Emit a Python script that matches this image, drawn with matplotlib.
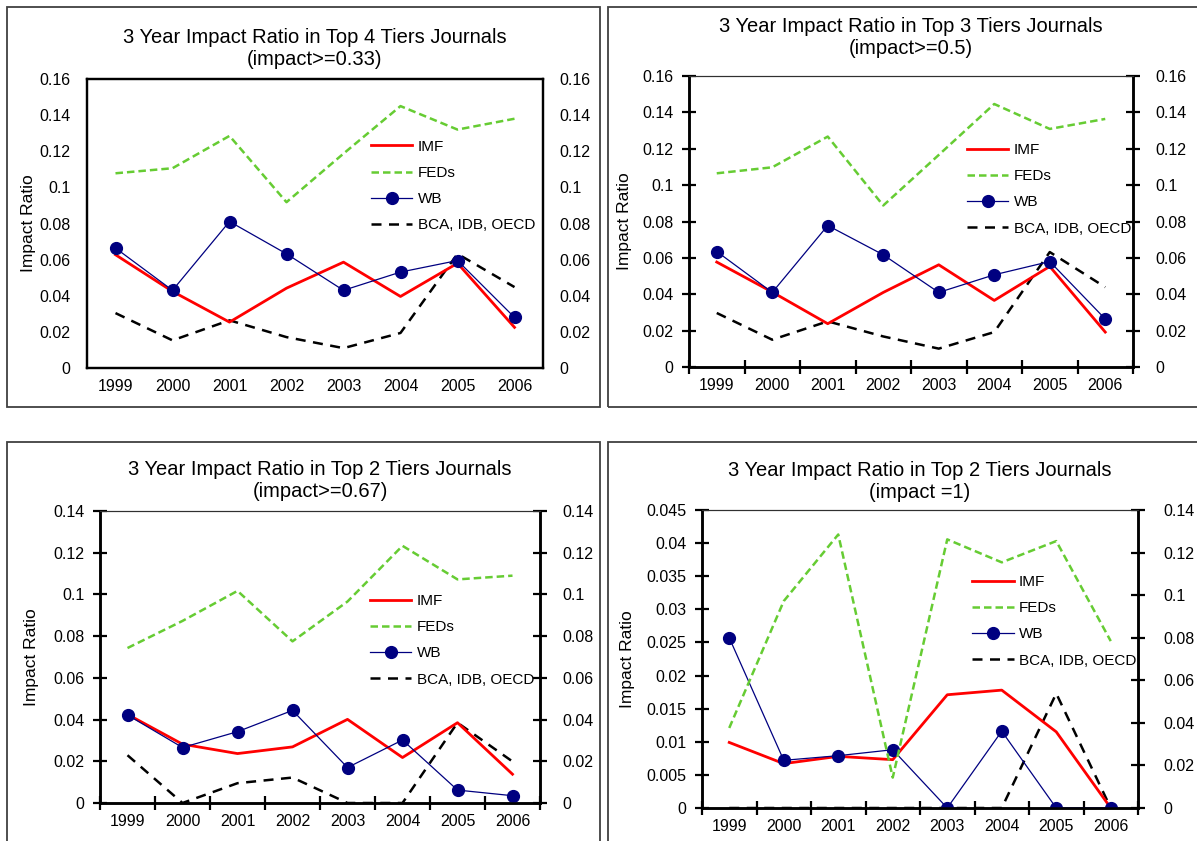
import numpy as np
import matplotlib.pyplot as plt
from matplotlib.patches import Rectangle
from matplotlib.ticker import FixedLocator, NullFormatter

plt.rcParams['font.family'] = ['Liberation Sans', 'DejaVu Sans']

years = ['1999', '2000', '2001', '2002', '2003', '2004', '2005', '2006']

# top 4 tiers, impact >= 0.33
imf_4 = [0.0627, 0.0424, 0.0254, 0.0442, 0.0586, 0.0396, 0.0580, 0.0225]
feds_4 = [0.1078, 0.1106, 0.1285, 0.0918, 0.1187, 0.1450, 0.1320, 0.1380]
wb_4 = [0.0664, 0.0430, 0.0811, 0.0632, 0.0430, 0.0531, 0.0595, 0.0280]
bca_4 = [0.0304, 0.0153, 0.0264, 0.0171, 0.0110, 0.0194, 0.0632, 0.0448]

# top 3 tiers, impact >= 0.5
imf_3 = [0.0577, 0.0412, 0.0238, 0.0410, 0.0562, 0.0366, 0.0553, 0.0192]
feds_3 = [0.1065, 0.1098, 0.1267, 0.0888, 0.1166, 0.1446, 0.1309, 0.1364]
wb_3 = [0.0635, 0.0410, 0.0778, 0.0617, 0.0410, 0.0507, 0.0580, 0.0264]
bca_3 = [0.0297, 0.0150, 0.0251, 0.0168, 0.0101, 0.0192, 0.0632, 0.0439]

# top 2 tiers, impact >= 0.67
imf_2 = [0.0425, 0.0282, 0.0237, 0.0269, 0.0401, 0.0218, 0.0385, 0.0138]
feds_2 = [0.0743, 0.0873, 0.1017, 0.0775, 0.0966, 0.1233, 0.1072, 0.1090]
wb_2 = [0.0422, 0.0266, 0.0342, 0.0444, 0.0170, 0.0302, 0.0062, 0.0035]
bca_2 = [0.0229, 0.0, 0.0095, 0.0122, 0.0, 0.0, 0.0385, 0.0199]

# top 2 tiers, impact = 1 (FEDs on the secondary axis)
imf_1 = [0.0099, 0.0067, 0.0078, 0.0073, 0.0171, 0.0178, 0.0115, 0.0]
feds_1 = [0.0376, 0.0972, 0.1285, 0.0143, 0.1262, 0.1154, 0.1254, 0.0784]
wb_1 = [0.0257, 0.0072, 0.0079, 0.0088, 0.0, 0.0116, 0.0, 0.0]
bca_1 = [0.0, 0.0, 0.0, 0.0, 0.0, 0.0, 0.0173, 0.0]

W, H = 1197, 841
fig = plt.figure(figsize=(W / 100, H / 100), dpi=100)


def box(x0, y0, x1, y1):
    # pixel box -> figure fraction rect
    return [x0 / W, 1 - y1 / H, (x1 - x0) / W, (y1 - y0) / H]


# panel frames
for x0, y0, x1, y1 in [(7, 7, 600, 407), (608, 7, 1200, 407),
                       (7, 442, 600, 850), (608, 442, 1200, 850)]:
    fig.patches.append(Rectangle((x0 / W, 1 - y1 / H), (x1 - x0) / W, (y1 - y0) / H,
                                 transform=fig.transFigure, fill=False,
                                 edgecolor='#404040', lw=1.3))


def panel(rect, title, imf, feds, wb, bca, ylim, yticks, ylabels,
          rylim=None, rticks=None, rlabels=None, feds_right=False,
          plain=False, leg=(0.62, 0.78), ylab_x=-0.15, tpad=10, rpad=10):
    ax = fig.add_axes(box(*rect))
    ax2 = ax.twinx()
    x = np.arange(len(years))

    ax.plot(x, imf, color='#ff0000', lw=2.0, label='IMF', zorder=3)
    fa = ax2 if feds_right else ax
    fa.plot(x, feds, color='#66cc33', lw=1.8, ls=(0, (3, 1.6)), label='FEDs', zorder=2)
    ax.plot(x, wb, color='#000080', lw=0.9, marker='o', ms=8.5, label='WB', zorder=4)
    ax.plot(x, bca, color='black', lw=1.8, ls=(0, (4, 3)), label='BCA, IDB, OECD', zorder=2)

    ax.set_xlim(-0.5, 7.5)
    ax.set_ylim(*ylim)
    ax.set_yticks(yticks)
    ax.set_yticklabels(ylabels)
    ax.set_xticks(x)
    ax.set_xticklabels(years)
    if rylim is None:
        rylim, rticks, rlabels = ylim, yticks, ylabels
    ax2.set_ylim(*rylim)
    ax2.set_yticks(rticks)
    ax2.set_yticklabels(rlabels)

    for a in (ax, ax2):
        a.tick_params(labelsize=11.5, colors='black')
        a.set_facecolor('none')
    ax.tick_params(axis='x', length=0, pad=8)

    if plain:
        ax.tick_params(axis='y', length=0, pad=12)
        ax2.tick_params(axis='y', length=0, pad=rpad)
        for a in (ax, ax2):
            for s in a.spines.values():
                s.set_linewidth(1.6)
    else:
        ax.tick_params(axis='y', direction='inout', length=10, width=1.6, pad=6)
        ax2.tick_params(axis='y', direction='inout', length=10, width=1.6, pad=rpad)
        ax.xaxis.set_minor_locator(FixedLocator(np.arange(-0.5, 8, 1.0)))
        ax.xaxis.set_minor_formatter(NullFormatter())
        ax.tick_params(axis='x', which='minor', direction='inout', length=10, width=1.6)
        for a in (ax, ax2):
            a.spines['left'].set_linewidth(1.8)
            a.spines['right'].set_linewidth(1.8)
            a.spines['bottom'].set_linewidth(1.8)
            a.spines['top'].set_linewidth(0.8)
            a.spines['top'].set_color('#303030')

    ax.set_ylabel('Impact Ratio', fontsize=12.5)
    ax.yaxis.set_label_coords(ylab_x, 0.5)
    ax.set_title(title, fontsize=14.5, pad=tpad, linespacing=1.18)

    h1, l1 = ax.get_legend_handles_labels()
    h2, l2 = ax2.get_legend_handles_labels()
    hs = dict(zip(l1 + l2, h1 + h2))
    order = ['IMF', 'FEDs', 'WB', 'BCA, IDB, OECD']
    ax2.legend([hs[k] for k in order], order, loc='upper left', bbox_to_anchor=leg,
               frameon=False, fontsize=11, handlelength=2.7, handletextpad=0.35,
               labelspacing=0.8, borderpad=0, borderaxespad=0)
    return ax


t16 = [0, 0.02, 0.04, 0.06, 0.08, 0.1, 0.12, 0.14, 0.16]
l16 = ['0', '0.02', '0.04', '0.06', '0.08', '0.1', '0.12', '0.14', '0.16']
t14 = t16[:-1]
l14 = l16[:-1]
t045 = [0, 0.005, 0.01, 0.015, 0.02, 0.025, 0.03, 0.035, 0.04, 0.045]
l045 = ['0', '0.005', '0.01', '0.015', '0.02', '0.025', '0.03', '0.035', '0.04', '0.045']

panel((87, 79, 543, 368), '3 Year Impact Ratio in Top 4 Tiers Journals\n(impact>=0.33)',
      imf_4, feds_4, wb_4, bca_4, (0, 0.16), t16, l16, plain=True,
      leg=(0.623, 0.79), ylab_x=-0.112, tpad=10, rpad=12)
panel((689, 76, 1133, 367), '3 Year Impact Ratio in Top 3 Tiers Journals\n(impact>=0.5)',
      imf_3, feds_3, wb_3, bca_3, (0, 0.16), t16, l16,
      leg=(0.626, 0.77), ylab_x=-0.128, tpad=16, rpad=11)
panel((100, 511, 540, 803), '3 Year Impact Ratio in Top 2 Tiers Journals\n(impact>=0.67)',
      imf_2, feds_2, wb_2, bca_2, (0, 0.14), t14, l14,
      leg=(0.614, 0.716), ylab_x=-0.139, tpad=10, rpad=11)
panel((702, 510, 1138, 808), '3 Year Impact Ratio in Top 2 Tiers Journals\n(impact =1)',
      imf_1, feds_1, wb_1, bca_1, (0, 0.045), t045, l045,
      rylim=(0, 0.14), rticks=t14, rlabels=l14, feds_right=True,
      leg=(0.62, 0.782), ylab_x=-0.154, tpad=9, rpad=13)

fig.savefig('out.png', dpi=100)
